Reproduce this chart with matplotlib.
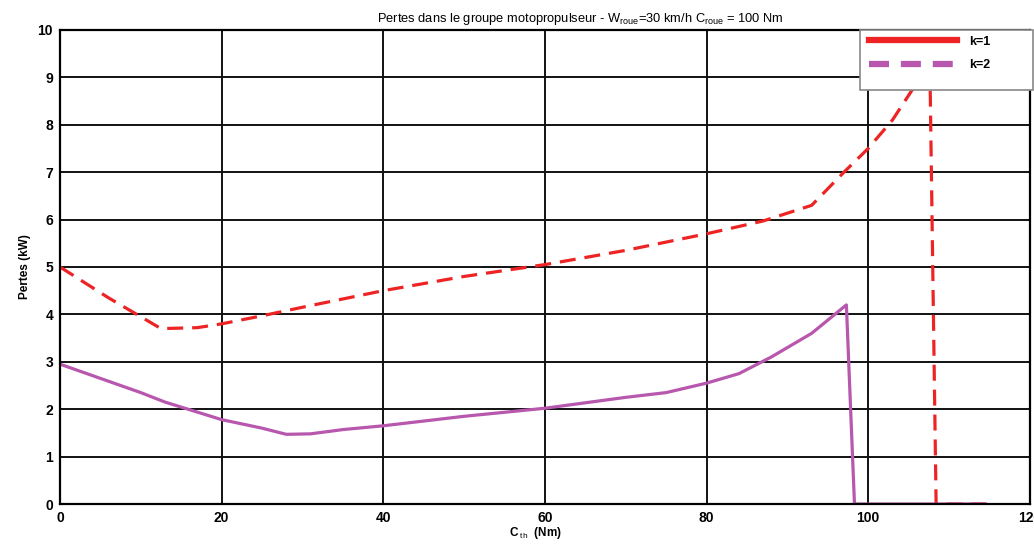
import matplotlib
matplotlib.use('Agg')
import matplotlib.pyplot as plt
from matplotlib.patches import Rectangle

plt.rcParams['font.family'] = ['Liberation Sans', 'DejaVu Sans']
plt.rcParams['mathtext.fontset'] = 'custom'
plt.rcParams['mathtext.rm'] = 'Liberation Sans'
plt.rcParams['mathtext.it'] = 'Liberation Sans'

# ── Data ────────────────────────────────────────────────────────────
# k=1 curve (drawn red dashed)
c_k1 = [0, 6, 12.5, 17, 20, 25, 30, 40, 50, 60, 70, 80, 87, 93, 97, 100, 103, 105.5, 107.6, 108.4, 110, 114.5]
p_k1 = [5.0, 4.35, 3.7, 3.72, 3.8, 3.97, 4.15, 4.5, 4.8, 5.05, 5.35, 5.7, 5.97, 6.3, 7.0, 7.5, 8.1, 8.75, 9.6, 0.0, 0.0, 0.0]

# k=2 curve (drawn magenta solid)
c_k2 = [0, 5, 10, 13, 20, 25, 28, 31, 35, 40, 50, 60, 70, 75, 80, 84, 88, 93, 97.3, 98.3, 114.5]
p_k2 = [2.95, 2.65, 2.35, 2.15, 1.78, 1.6, 1.47, 1.48, 1.57, 1.65, 1.85, 2.02, 2.25, 2.35, 2.55, 2.75, 3.1, 3.6, 4.2, 0.0, 0.0]

X_TICKS = [0, 20, 40, 60, 80, 100, 120]
Y_TICKS = list(range(0, 11))

RED = '#EE2424'
MAGENTA = '#B857AE'
NARROW = ['Liberation Sans Narrow', 'Liberation Sans', 'DejaVu Sans']

fig = plt.figure(figsize=(10.34, 5.44), dpi=100)
ax = fig.add_axes([0.058, 0.0735, 0.938, 0.8715])

ax.plot(c_k1, p_k1, color=RED, linewidth=2.3, linestyle=(0, (5, 2.8)))
ax.plot(c_k2, p_k2, color=MAGENTA, linewidth=2.3)

ax.set_xlim(0, 120)
ax.set_ylim(0, 10)
ax.set_xticks(X_TICKS)
ax.set_yticks(Y_TICKS)
ax.grid(True, color='#111111', linewidth=1.4)
ax.tick_params(labelsize=10, length=0, pad=5)
for lab in ax.get_xticklabels() + ax.get_yticklabels():
    lab.set_fontweight('bold')
    lab.set_family(NARROW)
for sp in ax.spines.values():
    sp.set_linewidth(1.6)
    sp.set_color('black')

ax.set_xlabel(r'C$_{\ th}$  (Nm)', fontsize=8.5, fontweight='bold', labelpad=0)
ax.xaxis.set_label_coords(0.49, -0.045)
ax.set_ylabel('Pertes (kW)', fontsize=8.5, fontweight='bold', labelpad=5, family=NARROW)
ax.set_title(r'Pertes dans le groupe motopropulseur - W$_{roue}$=30 km/h C$_{roue}$ = 100 Nm',
             fontsize=9.3, pad=6, x=0.537)

# legend box (white, grey edge) covering the top right corner
ax.add_patch(Rectangle((0.825, 0.873), 0.178, 0.127, transform=ax.transAxes,
                       facecolor='white', edgecolor='#888888', linewidth=1.2,
                       clip_on=False, zorder=4))

# legend (styles swapped relative to the curves, as in the original)
h1, = ax.plot([], [], color=RED, linewidth=4.5)
h2, = ax.plot([], [], color=MAGENTA, linewidth=4.5, linestyle=(0, (3.2, 1.9)))
leg = ax.legend([h1, h2], ['k=1', 'k=2'], loc='upper left',
                bbox_to_anchor=(0.829, 0.998), frameon=False,
                fontsize=9, handlelength=7.0, borderpad=0.4,
                labelspacing=0.92, handletextpad=1.0, borderaxespad=0)
leg.set_zorder(5)
for t in leg.get_texts():
    t.set_fontweight('bold')

fig.savefig('out.png', dpi=100)
